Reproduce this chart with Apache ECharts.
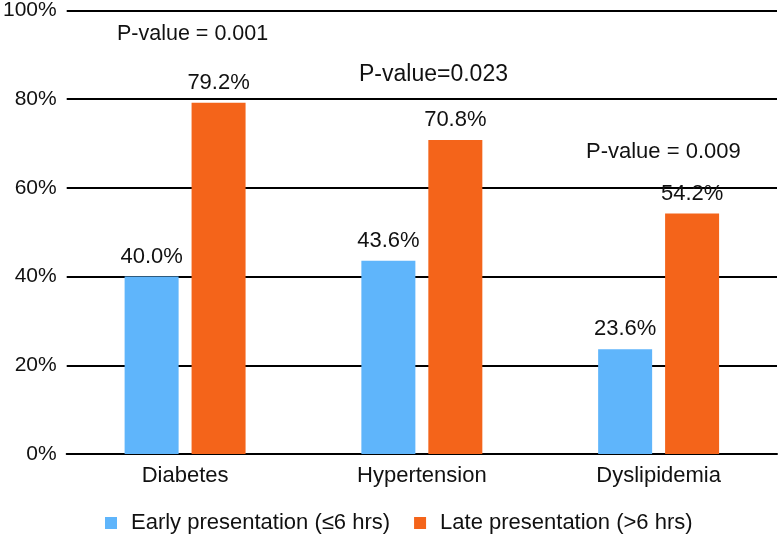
<!DOCTYPE html>
<html>
<head>
<meta charset="utf-8">
<script src="https://cdn.jsdelivr.net/npm/echarts@6/dist/echarts.min.js"></script>
<style>html,body{margin:0;padding:0;background:#fff}#c{width:778px;height:535px}</style>
</head>
<body>
<div id="c"></div>
<script>
const categories = ['Diabetes', 'Hypertension', 'Dyslipidemia'];
const earlyValues = [40.0, 43.6, 23.6];
const lateValues = [79.2, 70.8, 54.2];
const seriesNames = ['Early presentation (≤6 hrs)', 'Late presentation (>6 hrs)'];
const pValues = ['P-value = 0.001', 'P-value=0.023', 'P-value = 0.009'];
const yTicks = [0, 20, 40, 60, 80, 100];

const FONT = '"Liberation Sans", Arial, sans-serif';
const chart = echarts.init(document.getElementById('c'));
const labelStyle = {show: true, position: 'top', distance: 9, color: '#111', fontSize: 22, fontFamily: FONT, formatter: p => p.value.toFixed(1) + '%'};
const pText = (txt, x, y, size) => ({type: 'text', x: x, y: y, style: {text: txt, fill: '#111', font: size + 'px ' + FONT, align: 'left', verticalAlign: 'middle'}});
chart.setOption({
  animation: false,
  textStyle: {fontFamily: FONT},
  grid: {left: 65, right: 1, top: 10, bottom: 81, containLabel: false},
  legend: {
    top: 507, left: 100, itemWidth: 12, itemHeight: 12, itemGap: 24,
    icon: 'rect',
    textStyle: {fontSize: 22, color: '#111', fontFamily: FONT, padding: [0, 0, 0, 9]},
    data: seriesNames
  },
  xAxis: {
    type: 'category', data: categories,
    axisLine: {lineStyle: {color: '#000', width: 2}},
    axisTick: {show: false},
    axisLabel: {fontSize: 22, color: '#111', margin: 11, fontFamily: FONT}
  },
  yAxis: {
    type: 'value', min: yTicks[0], max: yTicks[yTicks.length - 1], interval: 20,
    axisLine: {show: false}, axisTick: {show: false},
    axisLabel: {fontSize: 21, color: '#111', margin: 10, fontFamily: FONT, formatter: v => v + '%'},
    splitLine: {lineStyle: {color: '#000', width: 2}}
  },
  series: [
    {name: seriesNames[0], type: 'bar', data: earlyValues, barWidth: 54, barGap: '24%', itemStyle: {color: '#5FB5FB'}, label: labelStyle},
    {name: seriesNames[1], type: 'bar', data: lateValues, barWidth: 54, itemStyle: {color: '#F4641A'}, label: labelStyle}
  ],
  graphic: [
    pText(pValues[0], 117, 34, 21.5),
    pText(pValues[1], 359, 75, 23),
    pText(pValues[2], 586, 152, 22)
  ]
});
</script>
</body>
</html>
